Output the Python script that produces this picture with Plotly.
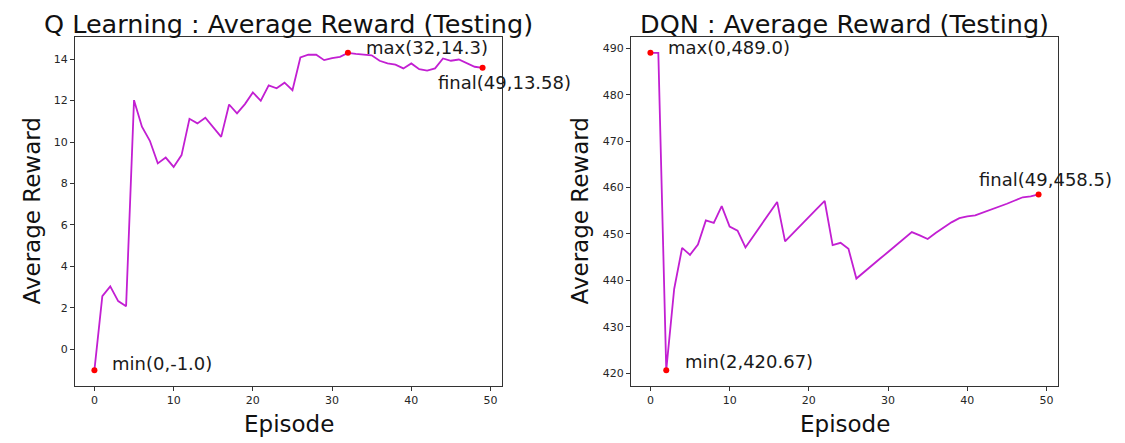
import plotly.graph_objects as go

# episode index and average reward per test episode
episodes = list(range(50))
q_reward = [-1.0, 2.57, 3.04, 2.33, 2.08, 12.02, 10.74, 10.06, 8.97, 9.25,
            8.8, 9.37, 11.12, 10.9, 11.17, 10.7, 10.25, 11.81, 11.38, 11.83,
            12.39, 11.99, 12.73, 12.59, 12.86, 12.5, 14.08, 14.21, 14.21, 13.95,
            14.05, 14.11, 14.3, 14.25, 14.2, 14.18, 13.92, 13.79, 13.73, 13.55,
            13.79, 13.51, 13.44, 13.55, 14.03, 13.92, 13.98, 13.79, 13.63, 13.58]
dqn_reward = [489.0, 489.0, 420.67, 438.15, 447.0, 445.5, 447.7, 452.9, 452.4, 456.0,
              451.6, 450.7, 447.1, 449.6, 452.0, 454.5, 456.9, 448.4, 450.2, 452.0,
              453.8, 455.4, 457.1, 447.6, 448.1, 446.8, 440.4, 441.9, 443.2, 444.7,
              446.1, 447.6, 448.9, 450.4, 449.7, 448.9, 450.2, 451.3, 452.5, 453.4,
              453.8, 454.0, 454.6, 455.3, 455.8, 456.5, 457.2, 457.9, 458.1, 458.5]

titles = ["Q Learning : Average Reward (Testing)", "DQN : Average Reward (Testing)"]

W, H = 1125, 443
FONT = "DejaVu Sans"
LINE = "#c21fd2"


def px(x):
    return x / W


def py(y):
    return 1 - y / H


def padded(vals):
    lo, hi = min(vals), max(vals)
    m = (hi - lo) * 0.05
    return [lo - m, hi + m]


fig = go.Figure()

# pixel boxes of the two axes (left, right)
boxes = [(75, 502), (631, 1058)]
top, bottom = 37, 386

series = [q_reward, dqn_reward]
# label offsets in pixels (xshift, yshift) for max / min / final
offsets = [
    {"max": (16, 5), "min": (16, 7), "final": (-47, -15)},
    {"max": (16, 5), "min": (17, 9), "final": (-62, 15)},
]

for k, vals in enumerate(series):
    xa = "x" if k == 0 else "x2"
    ya = "y" if k == 0 else "y2"
    fig.add_trace(go.Scatter(x=episodes, y=vals, mode="lines",
                             line=dict(color=LINE, width=1.8),
                             xaxis=xa, yaxis=ya, showlegend=False))

    i_max = vals.index(max(vals))
    i_min = vals.index(min(vals))
    i_fin = len(vals) - 1
    pts = [("max", i_max), ("min", i_min), ("final", i_fin)]
    fig.add_trace(go.Scatter(x=[episodes[i] for _, i in pts],
                             y=[vals[i] for _, i in pts],
                             mode="markers", marker=dict(color="red", size=6),
                             xaxis=xa, yaxis=ya, showlegend=False))
    for name, i in pts:
        dx, dy = offsets[k][name]
        fig.add_annotation(x=episodes[i], y=vals[i], xref=xa, yref=ya,
                           text=f"{name}({episodes[i]},{round(vals[i], 2)})",
                           showarrow=False, xanchor="left", yanchor="middle",
                           xshift=dx, yshift=dy,
                           font=dict(family=FONT, size=18, color="#1a1a1a"))

    x0, x1 = boxes[k]
    cx = (x0 + x1) / 2
    fig.add_annotation(x=px(cx), y=py(24), xref="paper", yref="paper",
                       text=titles[k], showarrow=False,
                       xanchor="center", yanchor="middle",
                       font=dict(family=FONT, size=25.5, color="#111"))
    fig.add_annotation(x=px(cx), y=py(424), xref="paper", yref="paper",
                       text="Episode", showarrow=False,
                       xanchor="center", yanchor="middle",
                       font=dict(family=FONT, size=23, color="#111"))
    fig.add_annotation(x=px(x0 - 44 if k == 0 else x0 - 52), y=py((top + bottom) / 2),
                       xref="paper", yref="paper",
                       text="Average Reward", showarrow=False, textangle=-90,
                       xanchor="center", yanchor="middle",
                       font=dict(family=FONT, size=23, color="#111"))

axis_style = dict(showgrid=False, zeroline=False, showline=True, mirror=True,
                  linecolor="#333", linewidth=1, ticks="outside", ticklen=4,
                  tickcolor="#333", tickfont=dict(family=FONT, size=11, color="#262626"))

fig.update_layout(
    width=W, height=H, autosize=False,
    margin=dict(l=0, r=0, t=0, b=0),
    plot_bgcolor="white", paper_bgcolor="white",
    xaxis=dict(domain=[px(75), px(502)], range=padded(episodes),
               tickvals=[0, 10, 20, 30, 40, 50], anchor="y", **axis_style),
    yaxis=dict(domain=[py(bottom), py(top)], range=padded(q_reward),
               tickvals=[0, 2, 4, 6, 8, 10, 12, 14], anchor="x", **axis_style),
    xaxis2=dict(domain=[px(631), px(1058)], range=padded(episodes),
                tickvals=[0, 10, 20, 30, 40, 50], anchor="y2", **axis_style),
    yaxis2=dict(domain=[py(bottom), py(top)], range=padded(dqn_reward),
                tickvals=[420, 430, 440, 450, 460, 470, 480, 490], anchor="x2", **axis_style),
)

# drop the default page margin so the figure sits at the window's corner
fig.write_html("out.html", config={"displayModeBar": False},
               post_script="document.body.style.margin='0px';")
